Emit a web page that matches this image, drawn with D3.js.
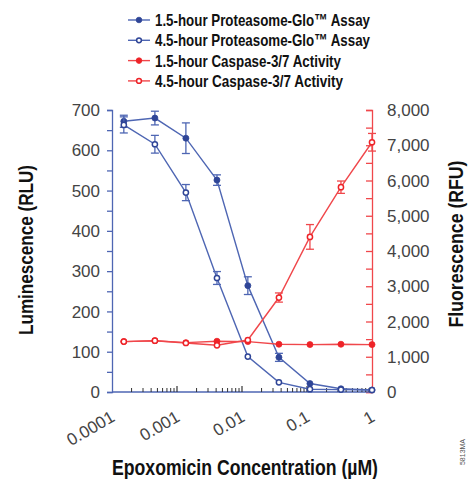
<!DOCTYPE html>
<html>
<head>
<meta charset="utf-8">
<script src="https://cdn.jsdelivr.net/npm/d3@7"></script>
<style>
  body { margin: 0; background: #fff; }
  svg { display: block; }
</style>
</head>
<body>
<script>
// concentrations (µM), 3-fold dilutions
const concentrations = [0.000152, 0.000457, 0.00137, 0.00412, 0.0123, 0.037, 0.111, 0.333, 1];

const proteasome15 = [672, 680, 630, 526, 264, 86, 21, 8, 5];
const proteasome15Err = [15, 17, 38, 13, 22, 10, 0, 0, 0];
const proteasome45 = [663, 615, 495, 283, 88, 24, 7, 6, 5];
const proteasome45Err = [20, 22, 20, 16, 0, 0, 0, 0, 0];

const caspase15 = [1430, 1455, 1400, 1440, 1430, 1355, 1345, 1355, 1345];
const caspase15Err = [0, 0, 0, 0, 0, 0, 0, 0, 0];
const caspase45 = [1430, 1455, 1390, 1325, 1475, 2680, 4400, 5810, 7085];
const caspase45Err = [0, 0, 0, 0, 0, 130, 350, 175, 250];

const xTicks = [0.0001, 0.001, 0.01, 0.1, 1];
const xTickLabels = ["0.0001", "0.001", "0.01", "0.1", "1"];
const leftTicks = [0, 100, 200, 300, 400, 500, 600, 700];
const rightTicks = [0, 1000, 2000, 3000, 4000, 5000, 6000, 7000, 8000];

const legendLabels = [
  "1.5-hour Proteasome-Glo\u2122 Assay",
  "4.5-hour Proteasome-Glo\u2122 Assay",
  "1.5-hour Caspase-3/7 Activity",
  "4.5-hour Caspase-3/7 Activity"
];
const legendWidths = [215, 215, 186, 188];

const blue = "#2f4597";
const blueLine = "#4e66b3";
const red = "#ee2328";
const redLine = "#f0474b";
const bold = "'Liberation Sans', Arial, sans-serif";
const plain = "'Liberation Sans', Arial, sans-serif";

const width = 468, height = 479;
const x0 = 112, x1 = 372, yTop = 110, yBottom = 392;

const svg = d3.select("body").append("svg")
  .attr("width", width)
  .attr("height", height);

const x = d3.scaleLog().domain([0.0001, 1]).range([x0, x1]);
const yL = d3.scaleLinear().domain([0, 700]).range([yBottom, yTop]);
const yR = d3.scaleLinear().domain([0, 8000]).range([yBottom, yTop]);

// left axis
svg.append("g")
  .attr("transform", `translate(${x0},0)`)
  .call(d3.axisLeft(yL).tickValues(d3.range(0, 701, 50)).tickSize(5).tickFormat(""))
  .call(g => g.selectAll("line, path").attr("stroke", blueLine).attr("stroke-width", 1.3));

svg.append("g").selectAll("text")
  .data(leftTicks)
  .join("text")
  .attr("x", x0 - 12)
  .attr("y", d => yL(d))
  .attr("dy", "0.36em")
  .attr("text-anchor", "end")
  .attr("font-family", plain)
  .attr("font-size", 17)
  .attr("fill", "#444")
  .text(d => d);

// right axis (ticks point inward)
svg.append("g")
  .attr("transform", `translate(${x1},0)`)
  .call(d3.axisLeft(yR).tickValues(d3.range(0, 8001, 500)).tickSize(6).tickFormat(""))
  .call(g => g.selectAll("line, path").attr("stroke", redLine).attr("stroke-width", 1.3));

svg.append("g").selectAll("text")
  .data(rightTicks)
  .join("text")
  .attr("x", x1 + 15)
  .attr("y", d => yR(d))
  .attr("dy", "0.36em")
  .attr("text-anchor", "start")
  .attr("font-family", plain)
  .attr("font-size", 17)
  .attr("fill", "#444")
  .text(d => d3.format(",")(d));

// bottom log axis, ticks pointing up
const minorTicks = [];
for (let e = -4; e < 0; e++) {
  for (let m = 2; m <= 9; m++) minorTicks.push(m * Math.pow(10, e));
}
const bottom = svg.append("g").attr("transform", `translate(0,${yBottom})`);
bottom.append("line")
  .attr("x1", x0).attr("x2", x1)
  .attr("stroke", blueLine).attr("stroke-width", 1.3);
bottom.selectAll(".minor")
  .data(minorTicks)
  .join("line")
  .attr("class", "minor")
  .attr("x1", d => x(d)).attr("x2", d => x(d))
  .attr("y1", 0).attr("y2", -4)
  .attr("stroke", "#333").attr("stroke-width", 1);
bottom.selectAll(".major")
  .data(xTicks.slice(1, -1))
  .join("line")
  .attr("class", "major")
  .attr("x1", d => x(d)).attr("x2", d => x(d))
  .attr("y1", 0).attr("y2", -6)
  .attr("stroke", "#333").attr("stroke-width", 1.2);

bottom.selectAll("text")
  .data(xTicks)
  .join("text")
  .attr("transform", d => `translate(${x(d) - 2},${18}) rotate(-30)`)
  .attr("text-anchor", "end")
  .attr("dy", "0.7em")
  .attr("font-family", plain)
  .attr("font-size", 17)
  .attr("fill", "#444")
  .text((d, i) => xTickLabels[i]);

// axis titles (condensed bold look via textLength)
svg.append("text")
  .attr("transform", `translate(33,250) rotate(-90)`)
  .attr("text-anchor", "middle")
  .attr("font-family", bold)
  .attr("font-weight", "bold")
  .attr("font-size", 21)
  .attr("textLength", 170)
  .attr("lengthAdjust", "spacingAndGlyphs")
  .attr("fill", "#111")
  .text("Luminescence (RLU)");

svg.append("text")
  .attr("transform", `translate(463,244) rotate(-90)`)
  .attr("text-anchor", "middle")
  .attr("font-family", bold)
  .attr("font-weight", "bold")
  .attr("font-size", 21)
  .attr("textLength", 167)
  .attr("lengthAdjust", "spacingAndGlyphs")
  .attr("fill", "#111")
  .text("Fluorescence (RFU)");

svg.append("text")
  .attr("x", 245)
  .attr("y", 475)
  .attr("text-anchor", "middle")
  .attr("font-family", bold)
  .attr("font-weight", "bold")
  .attr("font-size", 22)
  .attr("textLength", 266)
  .attr("lengthAdjust", "spacingAndGlyphs")
  .attr("fill", "#111")
  .text("Epoxomicin Concentration (\u00b5M)");

svg.append("text")
  .attr("transform", `translate(465,452) rotate(-90)`)
  .attr("text-anchor", "middle")
  .attr("font-family", plain)
  .attr("font-size", 7)
  .attr("fill", "#555")
  .text("5813MA");

// series
const series = [
  { values: proteasome15, err: proteasome15Err, y: yL, color: blue, line: blueLine, open: false },
  { values: proteasome45, err: proteasome45Err, y: yL, color: blue, line: blueLine, open: true },
  { values: caspase15, err: caspase15Err, y: yR, color: red, line: redLine, open: false },
  { values: caspase45, err: caspase45Err, y: yR, color: red, line: redLine, open: true }
];

series.forEach(s => {
  const g = svg.append("g");
  const pts = concentrations.map((c, i) => ({ c, v: s.values[i], e: s.err[i] }));

  g.append("path")
    .datum(pts)
    .attr("fill", "none")
    .attr("stroke", s.line)
    .attr("stroke-width", 1.4)
    .attr("d", d3.line().x(d => x(d.c)).y(d => s.y(d.v)));

  const eb = g.selectAll(".err")
    .data(pts.filter(d => d.e > 0))
    .join("g")
    .attr("stroke", s.line)
    .attr("stroke-width", 1.3);
  eb.append("line")
    .attr("x1", d => x(d.c)).attr("x2", d => x(d.c))
    .attr("y1", d => s.y(d.v - d.e)).attr("y2", d => s.y(d.v + d.e));
  eb.append("line")
    .attr("x1", d => x(d.c) - 4).attr("x2", d => x(d.c) + 4)
    .attr("y1", d => s.y(d.v + d.e)).attr("y2", d => s.y(d.v + d.e));
  eb.append("line")
    .attr("x1", d => x(d.c) - 4).attr("x2", d => x(d.c) + 4)
    .attr("y1", d => s.y(d.v - d.e)).attr("y2", d => s.y(d.v - d.e));

  g.selectAll("circle")
    .data(pts)
    .join("circle")
    .attr("cx", d => x(d.c))
    .attr("cy", d => s.y(d.v))
    .attr("r", s.open ? 2.6 : 3)
    .attr("fill", s.open ? "#fff" : s.color)
    .attr("stroke", s.color)
    .attr("stroke-width", s.open ? 1.5 : 0.8);
});

// legend
const legend = svg.append("g");
legendLabels.forEach((label, i) => {
  const s = series[i];
  const ly = 20 + i * 20.3;
  legend.append("line")
    .attr("x1", 128).attr("x2", 150)
    .attr("y1", ly).attr("y2", ly)
    .attr("stroke", s.line).attr("stroke-width", 1.4);
  legend.append("circle")
    .attr("cx", 139).attr("cy", ly)
    .attr("r", s.open ? 2.4 : 2.8)
    .attr("fill", s.open ? "#fff" : s.color)
    .attr("stroke", s.color)
    .attr("stroke-width", s.open ? 1.5 : 0.8);
  legend.append("text")
    .attr("x", 155)
    .attr("y", ly)
    .attr("dy", "0.36em")
    .attr("font-family", bold)
    .attr("font-weight", "bold")
    .attr("font-size", 17)
    .attr("textLength", legendWidths[i])
    .attr("lengthAdjust", "spacingAndGlyphs")
    .attr("fill", "#111")
    .text(label);
});
</script>
</body>
</html>
